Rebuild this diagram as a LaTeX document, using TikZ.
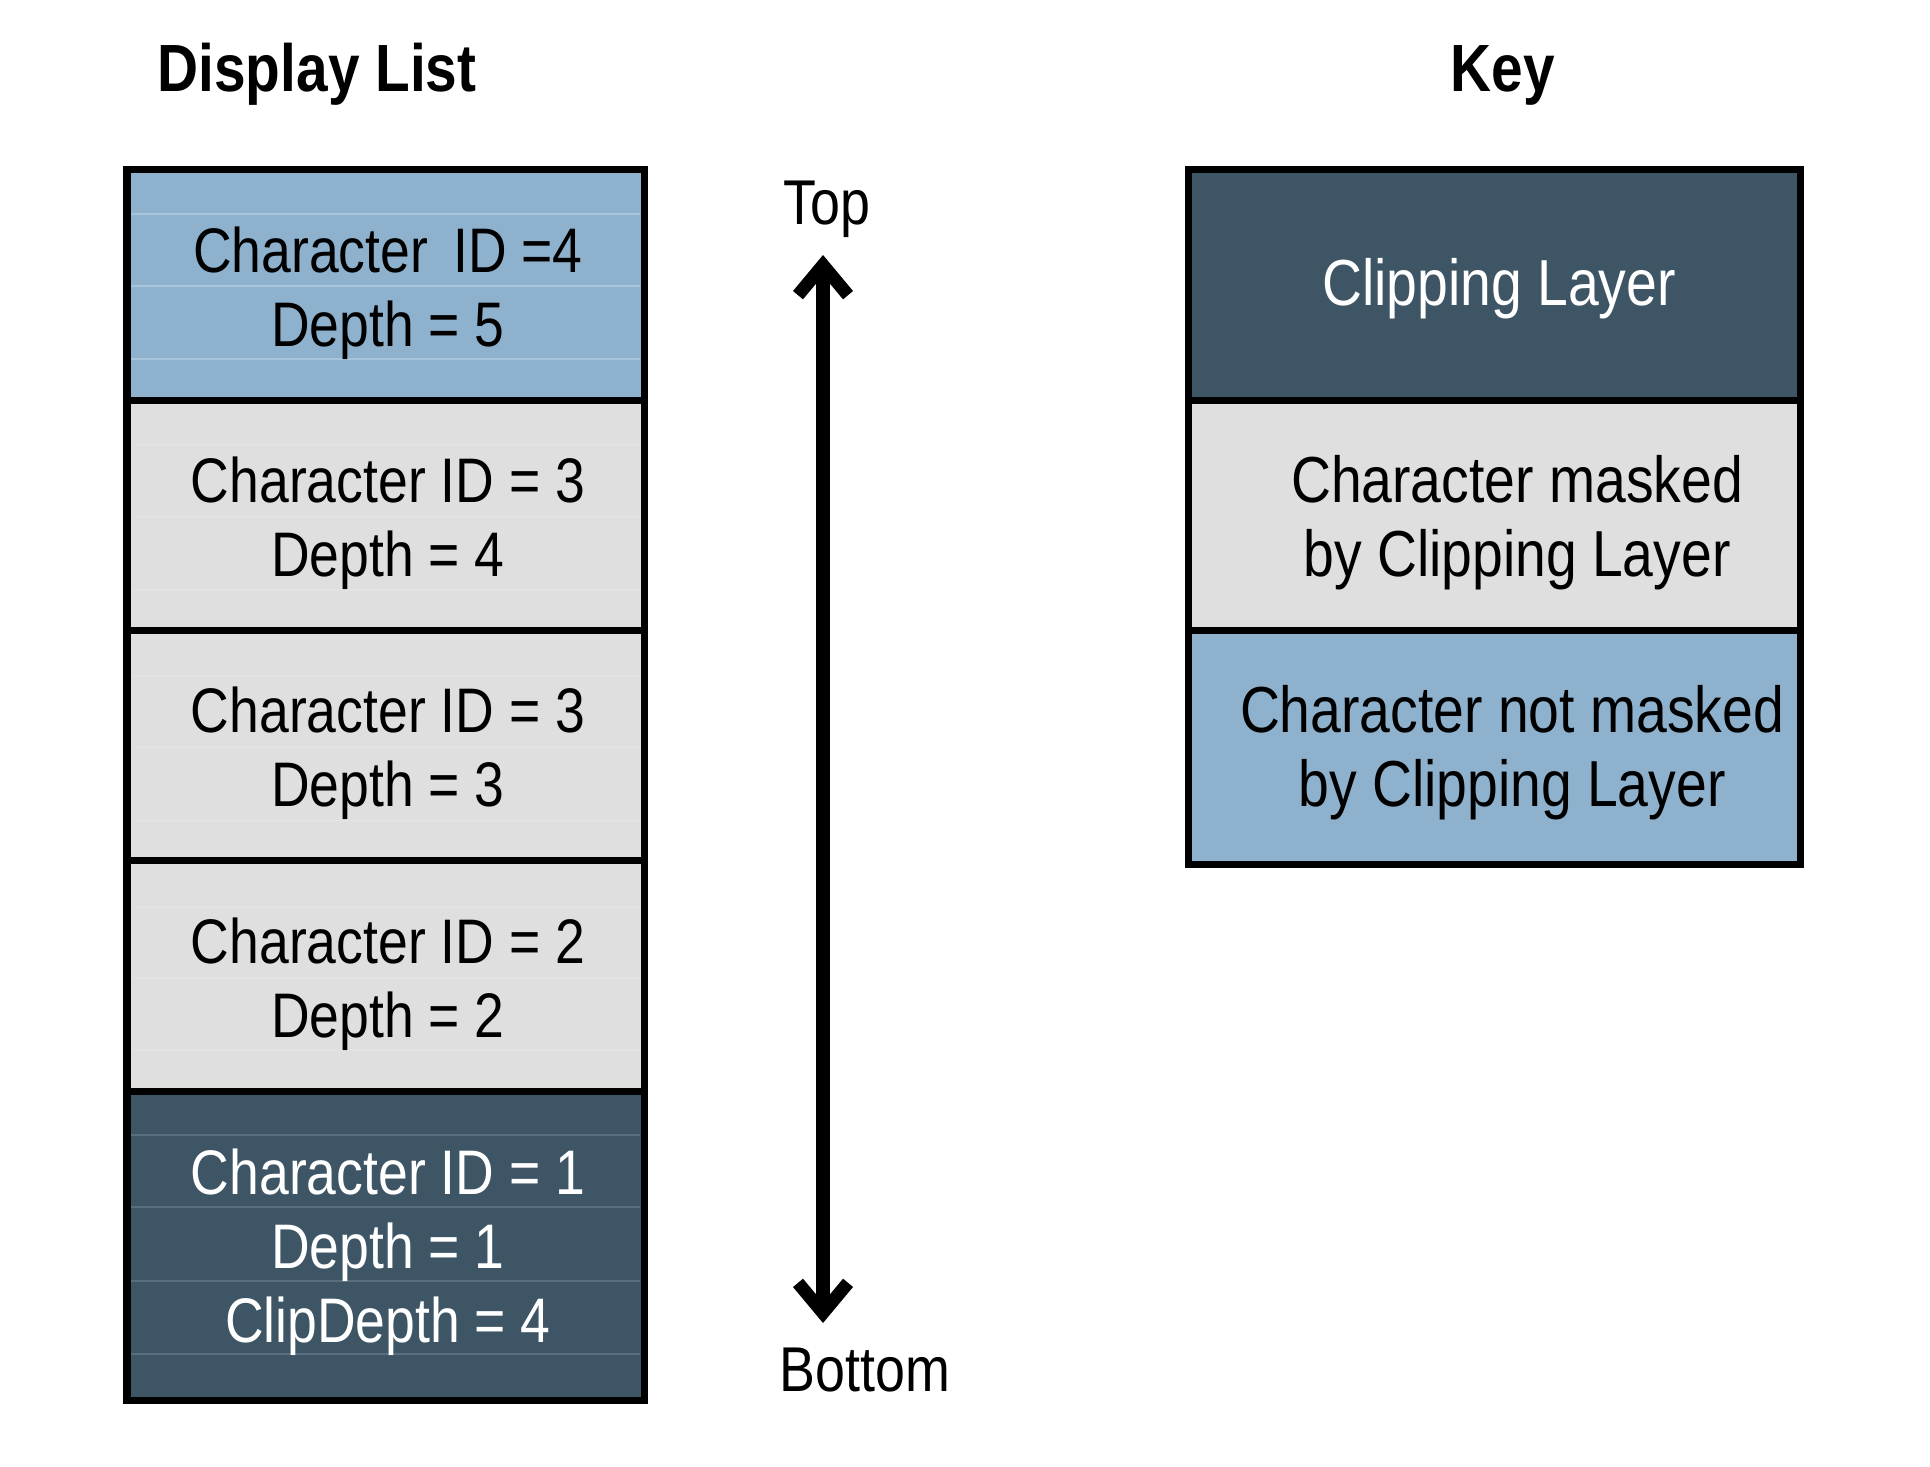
\documentclass[tikz,border=0pt]{standalone}
\usepackage{fontspec}
\setmainfont{Liberation Sans}[FakeStretch=0.85]
\usetikzlibrary{arrows.meta}
\definecolor{clipblue}{RGB}{142,178,206}
\definecolor{maskgrey}{RGB}{223,223,223}
\definecolor{clipdark}{RGB}{61,85,101}
\definecolor{bluegrid}{RGB}{166,197,220}
\definecolor{greygrid}{RGB}{226,226,226}
\definecolor{darkgrid}{RGB}{88,110,125}
\begin{document}
\begin{tikzpicture}[x=0.01cm,y=-0.01cm,
  frame/.style={draw=black, line width=0.07cm},
  faint/.style={line width=0.02cm},
  lst/.style={font=\fontsize{17.9}{21}\selectfont, align=center, inner sep=0pt},
  keytxt/.style={font=\fontsize{18.5}{21}\selectfont, align=center, inner sep=0pt},
  title/.style={font=\fontsize{19}{22}\selectfont\bfseries, inner sep=0pt, anchor=base},
  endlabel/.style={font=\fontsize{18}{21}\selectfont, inner sep=0pt, anchor=base west},
  updown/.style={line width=0.145cm,
    {Straight Barb[length=0.3cm, width=0.5cm, line width=0.13cm]}-{Straight Barb[length=0.3cm, width=0.5cm, line width=0.13cm]}}
]
\useasboundingbox (0,0) rectangle (1930,1466);

% ---- Display list fills
\fill[clipblue] (127,169) rectangle (644,400);
\fill[maskgrey] (127,400) rectangle (644,630);
\fill[maskgrey] (127,630) rectangle (644,860);
\fill[maskgrey] (127,860) rectangle (644,1091);
\fill[clipdark] (127,1091) rectangle (644,1400);

% faint table lines
\foreach \yy in {214,286,359} \draw[bluegrid,faint] (131,\yy) -- (640,\yy);
\foreach \yy in {445,517,590,676,747,821,907,978,1050} \draw[greygrid,faint] (131,\yy) -- (640,\yy);
\foreach \yy in {1135,1207,1281,1354} \draw[darkgrid,faint] (131,\yy) -- (640,\yy);

% frame and dividers
\draw[frame] (127,169) rectangle (644,1400);
\foreach \yy in {400,630,860,1091} \draw[frame] (127,\yy) -- (644,\yy);

% texts
\node[lst] (r1) at (388,293) {Character\hspace{0.4em}ID =4\\Depth = 5};
\node[lst] (r2) at (388,523) {Character ID = 3\\Depth = 4};
\node[lst] (r3) at (388,753) {Character ID = 3\\Depth = 3};
\node[lst] (r4) at (388,984) {Character ID = 2\\Depth = 2};
\node[lst, text=white] (r5) at (388,1252) {Character ID = 1\\Depth = 1\\ClipDepth = 4};

% ---- Key
\fill[clipdark] (1188,169) rectangle (1800,400);
\fill[maskgrey] (1188,400) rectangle (1800,630);
\fill[clipblue] (1188,630) rectangle (1800,864);
\draw[frame] (1188,169) rectangle (1800,864);
\foreach \yy in {400,630} \draw[frame] (1188,\yy) -- (1800,\yy);

\node[keytxt, text=white] (k1) at (1499,289) {Clipping Layer};
\node[keytxt] (k2) at (1517,523) {Character masked\\by Clipping Layer};
\node[keytxt] (k3) at (1512,753) {Character not masked\\by Clipping Layer};

% ---- titles
\node[title] (t1) at (317,91) {Display List};
\node[title] (t2) at (1503,91) {Key};

% ---- arrow
\node[endlabel] (top) at (783,224) {Top};
\node[endlabel] (bot) at (779,1391) {Bottom};
\coordinate (atop) at (823,255);
\coordinate (abot) at (823,1323);
\draw[updown] (atop) -- (abot);
\end{tikzpicture}
\end{document}
